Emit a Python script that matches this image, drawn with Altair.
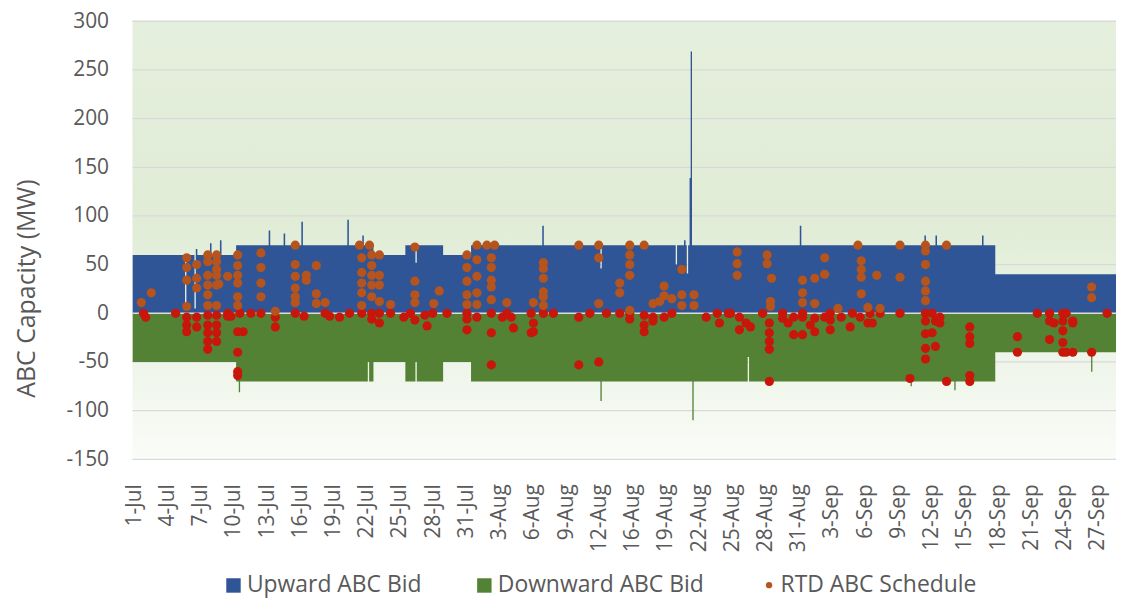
import json
import altair as alt
import pandas as pd

# ---------------- data ----------------
tick_pos = [0, 3, 6, 9, 12, 15, 18, 21, 24, 27, 30, 33, 36, 39, 42, 45, 48, 51, 54, 57,
            60, 63, 66, 69, 72, 75, 78, 81, 84, 87]
tick_labels = ["1-Jul", "4-Jul", "7-Jul", "10-Jul", "13-Jul", "16-Jul", "19-Jul", "22-Jul",
               "25-Jul", "28-Jul", "31-Jul", "3-Aug", "6-Aug", "9-Aug", "12-Aug", "16-Aug",
               "19-Aug", "22-Aug", "25-Aug", "28-Aug", "31-Aug", "3-Sep", "6-Sep", "9-Sep",
               "12-Sep", "15-Sep", "18-Sep", "21-Sep", "24-Sep", "27-Sep"]
y_ticks = [-150, -100, -50, 0, 50, 100, 150, 200, 250, 300]

bid_names = ["Upward ABC Bid", "Downward ABC Bid"]
bid_colors = ["#2F5597", "#548235"]
rtd_name = "RTD ABC Schedule"
rtd_color = "#B5541C"
neg_dot_color = "#C8160A"

# Upward bid (step breakpoints: day index, MW)
up_day = [-0.2, 4.55, 4.67, 5.40, 5.52, 5.66, 6.80, 6.94, 7.70, 7.84, 9.16, 12.10, 12.24,
          13.45, 13.59, 15.05, 15.19, 19.20, 19.34, 20.55, 20.69, 21.56, 24.44, 25.35, 25.47,
          27.85, 30.37, 36.80, 36.94, 42.05, 42.17, 48.85, 48.97, 49.60, 49.74, 49.85, 49.97,
          50.10, 50.20, 50.32, 60.05, 60.19, 71.30, 71.44, 72.30, 72.44, 76.50, 76.64, 77.70,
          88.6]
up_mw = [60, 5, 60, 5, 66, 60, 72, 60, 75, 60, 70, 85, 70,
         82, 70, 94, 70, 96, 70, 80, 70, 60, 70, 52, 70,
         60, 70, 90, 70, 46, 70, 50, 70, 75, 70, 41, 70,
         139, 269, 70, 90, 70, 80, 70, 80, 70, 80, 70, 40,
         40]

# Downward bid
down_day = [-0.2, 9.16, 9.40, 9.52, 21.05, 21.17, 21.56, 24.44, 25.35, 25.47, 27.85, 30.37,
            42.05, 42.17, 50.35, 50.47, 55.35, 55.47, 70.05, 70.17, 74.00, 74.12, 77.70,
            86.35, 86.47, 88.6]
down_mw = [-50, -70, -81, -70, -50, -70, -50, -70, -50, -70, -50, -70,
           -90, -70, -110, -70, -45, -70, -75, -70, -79, -70, -40,
           -60, -40, -40]

# RTD schedule dots: (day index, [MW values])
rtd_groups = [
    (0.6, [11]), (0.8, [0]), (1.0, [-4]), (1.5, [21]), (3.7, [0]),
    (4.7, [57, 47, 34, 7, -4, -12, -19]),
    (5.6, [50, 36, 26, -4, -14]),
    (6.6, [60, 53, 39, 29, 19, 8, -2, -12, -20, -29, -37]),
    (7.4, [60, 53, 45, 39, 29, 8, -2, -12, -20, -29]),
    (7.6, [30]), (8.4, [38, 0, -3]), (8.7, [-3]),
    (9.3, [60, 49, 39, 31, 17, 8, -19, -40, -60, -64]),
    (9.8, [-19]), (9.5, [0]), (10.5, [0]),
    (11.4, [62, 47, 31, 17, 0]),
    (12.7, [2, -4, -14]),
    (14.5, [70, 50, 38, 26, 17, 11, 0]),
    (15.3, [-3]), (15.5, [39, 34]), (16.4, [49, 20, 10]),
    (17.2, [11, 0]), (17.6, [-3]),
    (18.5, [-4]), (19.4, [0]), (20.3, [70]), (21.2, [70]),
    (20.5, [57, 42, 31, 21, 8, 0]),
    (21.4, [60, 49, 39, 29, 17, 0, -6]),
    (22.1, [60, 39, 29, 12, 0, -10]),
    (23.1, [9, 0]), (24.3, [-4]), (24.9, [0]),
    (25.3, [-7, 68, 33, 19, 11]),
    (26.2, [-2]), (26.4, [-13]), (26.9, [0]), (27.5, [23]), (27.0, [10]), (28.2, [0]),
    (30.0, [60, 47, 33, 19, 9, 0, -6, -17]),
    (30.9, [70, 55, 38, 21, 9, -4]),
    (31.8, [70]), (32.5, [70]),
    (32.2, [57, 47, 34, 27, 14, 0, -20, -53]),
    (33.2, [-4]), (33.6, [0, 11]), (34.0, [-4]), (34.2, [-15]), (35.8, [0, -20]),
    (36.0, [11, -10, -19]),
    (36.9, [52, 46, 36, 22, 17, 8, 0]),
    (37.8, [0]), (40.1, [70, -4, -53]), (41.1, [0]),
    (41.9, [70, 57, 10, -50]), (42.6, [0]),
    (43.8, [31, 21, 0]),
    (44.7, [70, 60, 50, 39, 3, 0, -6]),
    (46.0, [70, -2, -12, -19]),
    (46.8, [10, -4, -8]),
    (47.8, [28, 18, -4]), (47.4, [12]),
    (48.5, [15, 0]), (49.4, [45, 19, 8]), (50.5, [19, 8]),
    (51.6, [-4]), (52.6, [0]), (52.8, [-10]), (53.6, [0]),
    (54.4, [63, 51, 39]), (53.8, [0]), (54.6, [-4, -17]), (55.2, [-10]), (55.6, [-14]),
    (56.7, [0]), (57.1, [60, 51]), (57.5, [36]), (57.4, [12, 7]),
    (57.3, [-10, -20, -29, -37, -70]),
    (58.5, [0, -5]), (59.0, [-10]), (59.5, [-4, -22]),
    (60.3, [34, 21, 11, 0, -4, -22]),
    (61.4, [36, 10, -19, -5]), (61.0, [-12]),
    (62.3, [57, 40, -4]), (62.8, [0, -17, -7]),
    (63.5, [5]), (63.8, [-4]), (64.6, [-14]), (64.8, [0]), (65.5, [-4]),
    (65.3, [70]), (65.6, [54, 45, 37, 20]),
    (66.2, [6, -10]), (66.4, [0]), (66.6, [-10]),
    (67.0, [39]), (67.3, [5, 0]),
    (69.1, [70, 37, 0]), (70.0, [-67]),
    (71.4, [70, 64, 50, 33, 23, 13, 0, -8, -21, -36, -47]),
    (72.0, [0, -20]), (72.3, [-8, -34]), (72.7, [-4, -10]),
    (73.3, [70, -70]),
    (75.4, [-14, -24, -31, -64, -70]),
    (79.7, [-24, -40]), (81.5, [0]),
    (82.6, [0, -8, -27]), (83.0, [-10]),
    (83.8, [0, -8, -18, -30, -40]), (84.1, [0, -40]),
    (84.7, [-8, -10, -40]),
    (86.4, [27, 16, -40]), (87.8, [0]),
]

# ---------------- tables ----------------
area_df = pd.concat([
    pd.DataFrame({"day": up_day, "mw": up_mw, "series": bid_names[0]}),
    pd.DataFrame({"day": down_day, "mw": down_mw, "series": bid_names[1]}),
], ignore_index=True)

rtd_rows = [{"day": d, "mw": v, "series": rtd_name} for d, vals in rtd_groups for v in vals]
rtd_df = pd.DataFrame(rtd_rows)
grid_df = pd.DataFrame({"g": y_ticks})
xlab_df = pd.DataFrame({"pos": tick_pos, "label": tick_labels})

FONT = "Open Sans"
TXT = "#595959"

xs = alt.Scale(domain=[-0.2, 88.6], nice=False, zero=False)
ys = alt.Scale(domain=[-150, 300], nice=False)

y_axis = alt.Axis(values=y_ticks, labelExpr="'' + datum.value", grid=False, domain=False,
                  ticks=False, labelFontSize=21, labelColor=TXT, labelFont=FONT, labelPadding=24,
                  labelOverlap=False,
                  title="ABC Capacity (MW)", titleFontSize=25, titleFont=FONT,
                  titleFontWeight="normal", titleColor=TXT, titleX=-106, titleY=268,
                  titleAngle=-90, titleAlign="center", titleBaseline="middle")

bid_legend = alt.Legend(
    orient="none", legendX=90, legendY=555, direction="horizontal", title=None,
    labelFontSize=23, labelColor=TXT, labelFont=FONT, labelLimit=400,
    symbolType="square", symbolSize=210, symbolStrokeWidth=0, columnPadding=51, labelOffset=2,
)
rtd_legend = alt.Legend(
    orient="none", legendX=628, legendY=555, direction="horizontal", title=None,
    labelFontSize=23, labelColor=TXT, labelFont=FONT, labelLimit=400,
    symbolType="circle", symbolSize=40, symbolStrokeWidth=0, labelOffset=0,
)

bg_gradient = alt.LinearGradient(
    gradient="linear", x1=0, y1=0, x2=0, y2=1,
    stops=[
        alt.GradientStop(offset=0, color="#E5EFDD"),
        alt.GradientStop(offset=0.45, color="#E0ECD6"),
        alt.GradientStop(offset=0.75, color="#EDF4E8"),
        alt.GradientStop(offset=1, color="#FAFCF8"),
    ],
)

background = alt.Chart(pd.DataFrame({"k": [0]})).mark_rect(color=bg_gradient).encode(
    x=alt.value(0), x2=alt.value("width"), y=alt.value(0), y2=alt.value("height")
)

grid = alt.Chart(grid_df).mark_rule(color="#D9D9D9", strokeWidth=1.3).encode(
    y=alt.Y("g:Q", scale=ys, axis=y_axis)
)

areas = alt.Chart(area_df).mark_area(interpolate="step-after", clip=True).encode(
    x=alt.X("day:Q", scale=xs, axis=None),
    y=alt.Y("mw:Q", scale=ys, stack=None),
    y2=alt.datum(0),
    color=alt.Color("series:N", scale=alt.Scale(domain=bid_names, range=bid_colors),
                    legend=bid_legend),
)

zero_rule = alt.Chart(pd.DataFrame({"z": [0]})).mark_rule(color="#DCDCDC", strokeWidth=1.6).encode(
    y=alt.Y("z:Q", scale=ys)
)

pts_neg = alt.Chart(rtd_df).transform_filter("datum.mw <= 1").mark_point(
    filled=True, size=85, opacity=1, color=neg_dot_color, clip=True
).encode(
    x=alt.X("day:Q", scale=xs, axis=None),
    y=alt.Y("mw:Q", scale=ys),
)

pts_pos = alt.Chart(rtd_df).transform_filter("datum.mw > 1").mark_point(
    filled=True, size=85, opacity=1, clip=True
).encode(
    x=alt.X("day:Q", scale=xs, axis=None),
    y=alt.Y("mw:Q", scale=ys),
    color=alt.Color("series:N", scale=alt.Scale(domain=[rtd_name], range=[rtd_color]),
                    legend=rtd_legend),
)

# x-axis category labels (rotated), positioned through the x scale
x_labels = alt.Chart(xlab_df).mark_text(
    angle=270, align="right", baseline="middle", fontSize=21, font=FONT, color=TXT
).encode(
    x=alt.X("pos:Q", scale=xs, axis=None),
    y=alt.value(465),
    text="label:N",
)

chart = alt.layer(background, grid, areas, zero_rule, pts_neg, pts_pos, x_labels).resolve_scale(
    color="independent"
).properties(
    width=988, height=440,
    autosize="none",
    padding={"left": 125, "top": 12, "right": 0, "bottom": 138},
    background="white",
).configure_view(stroke=None)

chart.save("out.html", embed_options={"renderer": "svg", "actions": False})
